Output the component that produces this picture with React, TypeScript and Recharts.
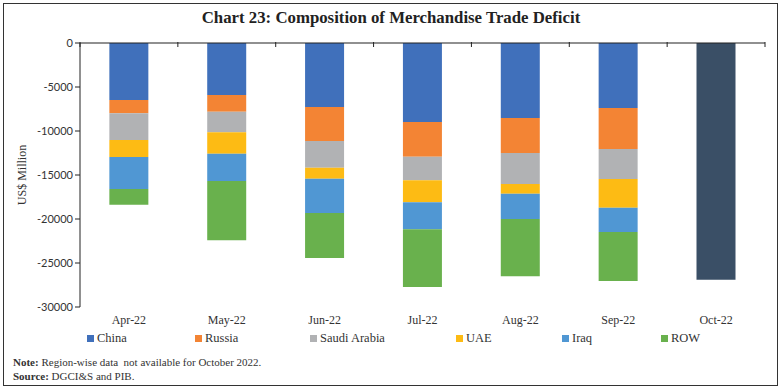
import { BarChart, Bar, XAxis, YAxis, ReferenceLine } from "recharts";

const MONTHS = ["Apr-22", "May-22", "Jun-22", "Jul-22", "Aug-22", "Sep-22", "Oct-22"];
const CHINA = [-6480, -5910, -7270, -8980, -8520, -7390, null];
const RUSSIA = [-1510, -1890, -3870, -3940, -3980, -4660, null];
const SAUDI = [-3030, -2350, -3030, -2680, -3520, -3400, null];
const UAE = [-1930, -2430, -1250, -2500, -1100, -3270, null];
const IRAQ = [-3650, -3100, -3900, -3070, -2880, -2760, null];
const ROW = [-1770, -6740, -5110, -6560, -6510, -5570, null];
const TOTAL = [null, null, null, null, null, null, -26900];
const Y_TICKS = [0, -5000, -10000, -15000, -20000, -25000, -30000];

const SERIES = [
  { key: "China", values: CHINA, color: "#4070bb" },
  { key: "Russia", values: RUSSIA, color: "#f38434" },
  { key: "Saudi Arabia", values: SAUDI, color: "#b1b2b4" },
  { key: "UAE", values: UAE, color: "#fdbb14" },
  { key: "Iraq", values: IRAQ, color: "#5097d3" },
  { key: "ROW", values: ROW, color: "#69b14d" },
];
const LEGEND_X = [87, 195, 310, 456, 562, 661];

const data = MONTHS.map((m, i) => {
  const row: Record<string, any> = { month: m, Total: TOTAL[i] };
  SERIES.forEach((s) => (row[s.key] = s.values[i]));
  return row;
});

const serif = "'Liberation Serif', serif";

// zero line with small ticks at category boundaries
function ZeroLine(props: any) {
  const { x1, y1, x2 } = props;
  const n = MONTHS.length;
  const step = (x2 - x1) / n;
  return (
    <g>
      <line x1={x1} y1={y1} x2={x2} y2={y1} stroke="#222" strokeWidth={1.2} />
      {Array.from({ length: n + 1 }).map((_, i) => (
        <line key={i} x1={x1 + i * step} x2={x1 + i * step} y1={y1 - 1} y2={y1 + 4} stroke="#222" />
      ))}
    </g>
  );
}

export default function App() {
  return (
    <div style={{ position: "absolute", left: 0, top: 0, width: 782, height: 389, background: "#fff" }}>
      <div
        style={{
          position: "absolute",
          left: 3,
          top: 3,
          width: 773,
          height: 381,
          border: "1.5px solid #333",
        }}
      />
      <div
        style={{
          position: "absolute",
          top: 8,
          left: 0,
          width: 782,
          textAlign: "center",
          fontFamily: serif,
          fontWeight: "bold",
          fontSize: 16.8,
          color: "#222",
        }}
      >
        Chart 23: Composition of Merchandise Trade Deficit
      </div>
      <div
        style={{
          position: "absolute",
          left: 22,
          top: 175,
          transform: "translate(-50%, -50%) rotate(-90deg)",
          fontFamily: serif,
          fontSize: 12,
          color: "#333",
          whiteSpace: "nowrap",
        }}
      >
        US$ Million
      </div>
      <div style={{ position: "absolute", left: 0, top: 0 }}>
        <BarChart
          width={782}
          height={330}
          data={data}
          margin={{ top: 43, right: 17, bottom: 3, left: 0 }}
          barCategoryGap="30%"
        >
          <XAxis
            dataKey="month"
            axisLine={false}
            tickLine={false}
            height={20}
            tick={{ fontFamily: serif, fontSize: 12, fill: "#333" }}
          />
          <YAxis
            width={80}
            domain={[-30000, 0]}
            ticks={Y_TICKS}
            interval={0}
            axisLine={{ stroke: "#222" }}
            tickLine={{ stroke: "#222" }}
            tickSize={5}
            tick={{ fontFamily: "Lato, sans-serif", fontSize: 11, fill: "#333" }}
          />
          {SERIES.map((s) => (
            <Bar key={s.key} dataKey={s.key} stackId="a" fill={s.color} isAnimationActive={false} />
          ))}
          <Bar dataKey="Total" stackId="a" fill="#3a4f66" isAnimationActive={false} />
          <ReferenceLine y={0} shape={<ZeroLine />} />
        </BarChart>
      </div>
      {SERIES.map((s, i) => (
        <div
          key={s.key}
          style={{
            position: "absolute",
            left: LEGEND_X[i],
            top: 331,
            display: "flex",
            alignItems: "center",
            fontFamily: serif,
            fontSize: 12.5,
            color: "#333",
            whiteSpace: "nowrap",
          }}
        >
          <span style={{ display: "inline-block", width: 7, height: 7, background: s.color, marginRight: 3 }} />
          {s.key}
        </div>
      ))}
      <div style={{ position: "absolute", left: 13, top: 356, fontFamily: serif, fontSize: 11, color: "#333" }}>
        <b>Note:</b> Region-wise data&nbsp; not available for October 2022.
      </div>
      <div style={{ position: "absolute", left: 13, top: 370, fontFamily: serif, fontSize: 11, color: "#333" }}>
        <b>Source:</b> DGCI&amp;S and PIB.
      </div>
    </div>
  );
}
